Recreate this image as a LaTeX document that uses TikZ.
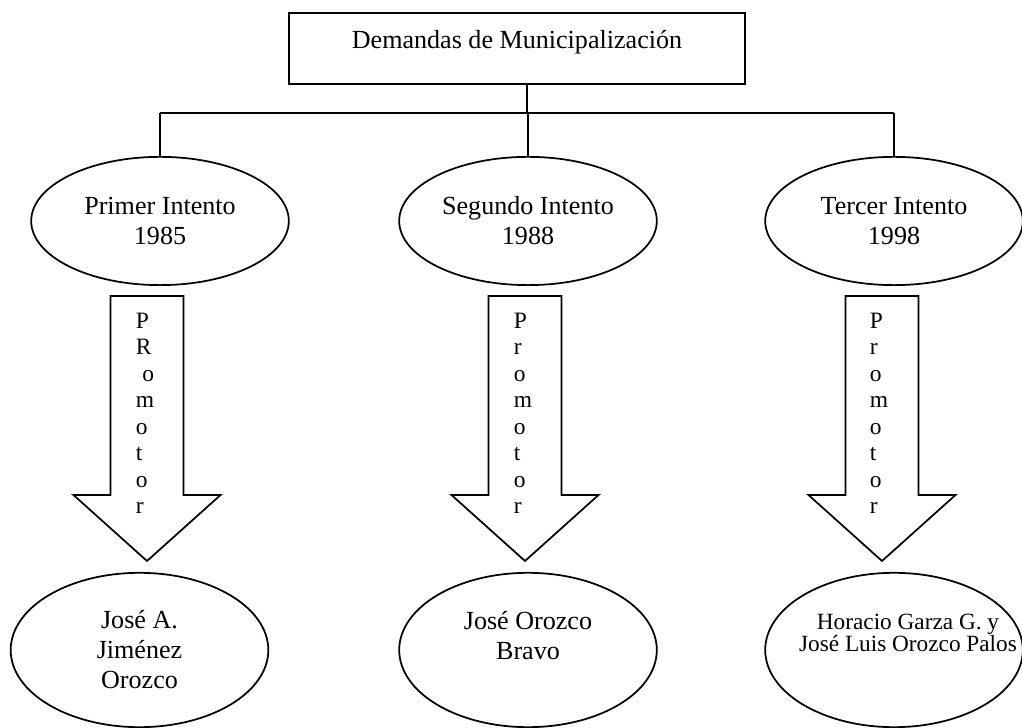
\documentclass[tikz,border=0pt]{standalone}
\usepackage{fontspec}
\setmainfont{Liberation Serif}
\usetikzlibrary{shapes.geometric}

\begin{document}
\begin{tikzpicture}[x=0.46pt,y=-0.46pt,line width=0.8pt,
        font=\fontsize{12}{13.8}\selectfont,
        intento/.style={ellipse,draw,align=center,inner sep=0pt,minimum width=118.5pt,minimum height=59pt},
        promotor/.style={ellipse,draw,align=center,inner sep=0pt,minimum width=118.5pt,minimum height=71pt},
        letras/.style={anchor=north west,inner sep=0pt,align=left,font=\fontsize{10.8}{12.2}\selectfont}]
        % marco
        \useasboundingbox (0,0) rectangle (1022,728);

        % Caja principal
        \node[draw,minimum width=210pt,inner ysep=0pt,text height=16.5pt,text depth=16.2pt] (demandas) at (517,48.5) {Demandas de Municipalización};

        % Intentos
        \node[intento] (i1) at (160,221) {Primer Intento\\1985};
        \node[intento] (i2) at (528,221) {Segundo Intento\\1988};
        \node[intento] (i3) at (894,221) {Tercer Intento\\1998};

        % Lineas de union
        \coordinate (bus) at (527,113);
        \draw (demandas.south -| bus) -- (bus);
        \draw (bus -| i1.north) -- (bus -| i3.north);
        \foreach \i in {1,2,3}
            \draw (bus -| i\i.north) -- (i\i.north);

        % Flechas, promotor
        \foreach \cx/\dx/\txt [count=\k] in {147/12/{P\\R\\\hspace*{3pt}o\\m\\o\\t\\o\\r},
                525/12/{P\\r\\o\\m\\o\\t\\o\\r},
                882/13/{P\\r\\o\\m\\o\\t\\o\\r}}
        {
            \draw (\cx-36.5,296) -- (\cx+36.5,296) -- (\cx+36.5,495) -- (\cx+73.5,495)
                -- (\cx,561) -- (\cx-73.5,495) -- (\cx-36.5,495) -- cycle;
            \node[letras] (p\k) at (\cx-\dx,312) {\txt};
        }

        % Promotores
        \node[promotor] (r1) at (139.5,650) {José A.\\Jiménez\\Orozco};
        \node[promotor] (r2) at (528,650) {José Orozco\\Bravo\\~};
        \node[promotor] (r3) at (894,650) {};
        \node[align=center,inner sep=0pt,font=\fontsize{10.7}{10.1}\selectfont] (t3) at (908,633)
            {Horacio Garza G. y\\José Luis Orozco Palos};
    \end{tikzpicture}
\end{document}
